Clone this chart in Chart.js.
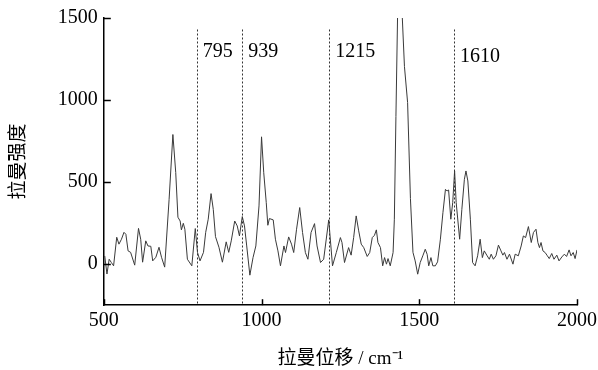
<!DOCTYPE html>
<html lang="zh">
<head>
    <meta charset="UTF-8">
    <title>拉曼光谱</title>
    <script src="https://cdn.jsdelivr.net/npm/chart.js@4.4.0/dist/chart.umd.min.js"></script>
    <style>
        html, body { margin: 0; padding: 0; background: #fff; }
        #recuadro { display: block; }
    </style>
</head>
<body>

    <canvas id="recuadro" width="598" height="370"></canvas>

    <script>
        // espectro (desplazamiento, intensidad)
        const shift = [503, 510, 517, 524, 531, 541, 548, 556, 564, 570, 577, 585, 598, 610, 617, 623, 633, 640, 649, 655,
            665, 675, 683, 693, 707, 719, 728, 735, 742, 746, 752, 757, 765, 779, 790, 797, 805, 816, 823, 831,
            840, 847, 854, 865, 876, 888, 896, 904, 915, 923, 930, 939, 946, 953, 963, 973, 982, 992, 1000, 1007,
            1015, 1020, 1025, 1037, 1044, 1052, 1060, 1071, 1076, 1086, 1095, 1102, 1111, 1121, 1130, 1139, 1147, 1157, 1168, 1176,
            1187, 1197, 1213, 1225, 1237, 1250, 1255, 1263, 1276, 1284, 1292, 1300, 1308, 1316, 1324, 1335, 1343, 1351, 1358, 1364,
            1369, 1377, 1384, 1390, 1396, 1401, 1408, 1417, 1421, 1426, 1432, 1438, 1444, 1453, 1463, 1472, 1480, 1487, 1495, 1503,
            1512, 1519, 1525, 1530, 1537, 1543, 1551, 1558, 1567, 1575, 1583, 1588, 1593, 1600, 1606, 1612, 1617, 1628, 1635, 1643,
            1648, 1654, 1662, 1669, 1677, 1685, 1693, 1700, 1706, 1714, 1722, 1728, 1735, 1743, 1751, 1759, 1765, 1770, 1778, 1786,
            1797, 1804, 1814, 1823, 1830, 1837, 1846, 1855, 1862, 1870, 1876, 1881, 1886, 1892, 1899, 1906, 1912, 1920, 1927, 1936,
            1943, 1952, 1960, 1967, 1975, 1981, 1988, 1994, 2000];
        const intensity = [50, -60, 30, 10, -10, 164, 122, 152, 194, 182, 81, 72, -6, 218, 152, 12, 142, 111, 109, 20,
            42, 103, 42, -18, 395, 790, 559, 286, 263, 209, 249, 213, 30, -10, 217, 72, 20, 72, 194, 274,
            430, 334, 168, 103, 12, 136, 72, 142, 263, 233, 172, 290, 233, 111, -67, 40, 111, 355, 776, 557,
            375, 237, 278, 270, 152, 81, -10, 111, 71, 166, 122, 71, 213, 345, 193, 71, 30, 193, 247, 111,
            10, 30, 270, -10, 71, 162, 132, 10, 101, 55, 162, 294, 203, 122, 101, 47, 71, 162, 176, 209,
            132, 101, -10, 40, 0, 34, -10, 71, 274, 900, 1600, 1850, 1600, 1205, 985, 400, 72, 20, -61, 10,
            55, 91, 60, -10, 40, -10, -10, 14, 152, 314, 456, 446, 452, 274, 375, 568, 375, 152, 334, 517,
            568, 507, 274, 10, -10, 51, 152, 40, 81, 55, 30, 61, 30, 51, 116, 81, 55, 71, 30, 61,
            0, 61, 51, 111, 172, 162, 229, 132, 193, 213, 132, 101, 132, 81, 71, 51, 34, 65, 30, 55,
            20, 44, 61, 47, 87, 51, 71, 34, 87];

        // picos marcados con linea discontinua
        const peaks = [795, 939, 1215, 1610];
        const peakLabels = ['795', '939', '1215', '1610'];

        const xTicks = [500, 1000, 1500, 2000];
        const yTicks = [0, 500, 1000, 1500];

        const puntos = shift.map((x, i) => ({ x: x, y: intensity[i] }));

        const serif = '"Liberation Serif", "Noto Sans CJK SC", serif';

        // lineas de picos + marcas hacia adentro
        const marcas = {
            id: 'marcas',
            afterDatasetsDraw(chart) {
                const ctx = chart.ctx;
                const xs = chart.scales.x;
                const ys = chart.scales.y;
                const area = chart.chartArea;

                ctx.save();
                ctx.strokeStyle = '#333';
                ctx.lineWidth = 1;
                ctx.setLineDash([2, 2]);
                peaks.forEach((p) => {
                    const px = Math.round(xs.getPixelForValue(p)) + 0.5;
                    ctx.beginPath();
                    ctx.moveTo(px, ys.getPixelForValue(1430));
                    ctx.lineTo(px, area.bottom);
                    ctx.stroke();
                });
                ctx.setLineDash([]);

                ctx.fillStyle = '#000';
                ctx.font = '20px ' + serif;
                ctx.textBaseline = 'middle';
                peaks.forEach((p, i) => {
                    const px = xs.getPixelForValue(p);
                    const lvl = p === 1610 ? 1265 : 1295;
                    ctx.fillText(peakLabels[i], px + 6, ys.getPixelForValue(lvl));
                });

                ctx.strokeStyle = '#000';
                ctx.lineWidth = 1.5;
                xTicks.forEach((t) => {
                    const px = Math.round(xs.getPixelForValue(t)) + 0.5;
                    ctx.beginPath();
                    ctx.moveTo(px, area.bottom);
                    ctx.lineTo(px, area.bottom - 6);
                    ctx.stroke();
                });
                yTicks.forEach((t) => {
                    const py = Math.round(ys.getPixelForValue(t)) + 0.5;
                    ctx.beginPath();
                    ctx.moveTo(area.left, py);
                    ctx.lineTo(area.left + 7, py);
                    ctx.stroke();
                });
                ctx.restore();
            }
        };

        const ctx = document.getElementById('recuadro').getContext('2d');

        const myChart = new Chart(ctx, {
            type: 'line',
            data: {
                datasets: [{
                    data: puntos,
                    borderColor: '#3a3a3a',
                    borderWidth: 1,
                    pointRadius: 0,
                    fill: false,
                    tension: 0
                }]
            },
            options: {
                responsive: false,
                animation: false,
                events: [],
                layout: { padding: { top: 8, right: 0, left: 8, bottom: 0 } },
                plugins: {
                    legend: { display: false },
                    tooltip: { enabled: false }
                },
                scales: {
                    x: {
                        type: 'linear',
                        min: 500,
                        max: 2000,
                        afterBuildTicks: (s) => { s.ticks = xTicks.map((v) => ({ value: v })); },
                        afterFit: (s) => { s.paddingRight = 21; },
                        grid: { display: false, drawTicks: false },
                        border: { display: true, color: '#000', width: 1.5 },
                        ticks: {
                            color: '#000',
                            padding: 4,
                            maxRotation: 0,
                            callback: (v) => String(v),
                            font: { family: serif, size: 20 }
                        },
                        title: {
                            display: true,
                            text: '拉曼位移 / cm⁻¹',
                            color: '#000',
                            padding: { top: 10, bottom: 0 },
                            font: { family: serif, size: 19 }
                        }
                    },
                    y: {
                        type: 'linear',
                        min: -250,
                        max: 1500,
                        afterBuildTicks: (s) => { s.ticks = yTicks.map((v) => ({ value: v })); },
                        grid: { display: false, drawTicks: false },
                        border: { display: true, color: '#000', width: 1.5 },
                        ticks: {
                            color: '#000',
                            padding: 6,
                            callback: (v) => String(v),
                            font: { family: serif, size: 20 }
                        },
                        title: {
                            display: true,
                            text: '拉曼强度',
                            color: '#000',
                            padding: { top: 0, bottom: 21 },
                            font: { family: serif, size: 19 }
                        }
                    }
                }
            },
            plugins: [marcas]
        });
    </script>

</body>
</html>
